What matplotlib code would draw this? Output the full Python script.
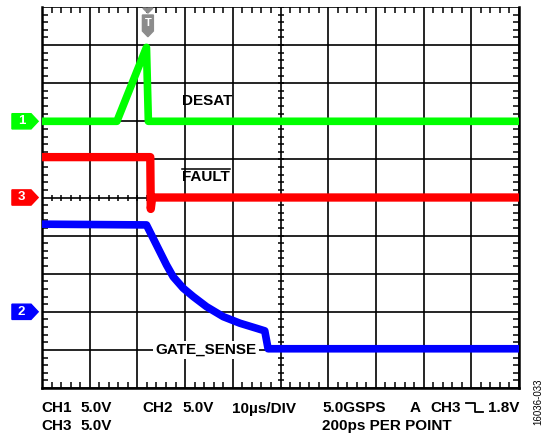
import numpy as np
import matplotlib
matplotlib.use("Agg")
import matplotlib.pyplot as plt
from matplotlib.patches import Polygon
from matplotlib.lines import Line2D
import matplotlib.transforms as mtransforms

plt.rcParams["font.family"] = ["Liberation Sans", "DejaVu Sans"]

# scope settings
VOLTS_PER_DIV = 5.0
US_PER_DIV = 10.0
T_LEFT = -22.2          # time at left edge of screen (trigger at 0)
N_XDIV = 10
N_YDIV = 10

# channel ground positions (divisions from bottom)
offset_ch1 = 7
offset_ch3 = 5
offset_ch2 = 2

# CH1 - DESAT (V vs us)
t_ch1 = [-22.2, -6.5, -0.3, 0.1, 77.8]
v_ch1 = [0.0, 0.0, 9.7, 0.0, 0.0]

# CH3 - FAULT
t_ch3 = [-22.2, 0.5, 0.6, 0.9, 77.8]
v_ch3 = [5.3, 5.3, -1.5, 0.0, 0.0]

# CH2 - GATE_SENSE
t_ch2 = [-22.2, -0.3, 1.1, 2.5, 3.9, 5.3, 7.4, 9.5, 12.3, 15.8, 19.3, 22.8,
         24.5, 25.2, 77.8]
v_ch2 = [11.5, 11.4, 9.65, 7.9, 6.15, 4.6, 3.1, 2.0, 0.67, -0.64, -1.5, -2.17,
         -2.5, -4.85, -4.85]

fig = plt.figure(figsize=(5.5, 4.34), dpi=100)
ax = fig.add_axes([42 / 550, 46 / 434, 477 / 550, 381 / 434])

x0, x1 = T_LEFT, T_LEFT + N_XDIV * US_PER_DIV
ax.set_xlim(x0, x1)
ax.set_ylim(0, N_YDIV)

# graticule
ax.set_xticks(x0 + US_PER_DIV * np.arange(N_XDIV + 1))
ax.set_yticks(np.arange(N_YDIV + 1))
ax.set_xticks(x0 + 2.0 * np.arange(5 * N_XDIV + 1), minor=True)
ax.set_yticks(0.2 * np.arange(5 * N_YDIV + 1), minor=True)
ax.grid(True, which="major", color="black", lw=1.2)
ax.tick_params(which="both", labelbottom=False, labelleft=False)
ax.tick_params(which="major", length=0)
ax.tick_params(which="minor", direction="in", length=4, width=1.1,
               top=True, right=True, bottom=True, left=True, color="black")
ax.spines["top"].set_visible(False)
for s in ["left", "right", "bottom"]:
    ax.spines[s].set_linewidth(1.8)

# centre cross ticks
xm = x0 + 2.0 * np.arange(5 * N_XDIV + 1)
ym = 0.2 * np.arange(5 * N_YDIV + 1)
xc = x0 + US_PER_DIV * N_XDIV / 2
ax.plot(xm, np.full_like(xm, N_YDIV / 2), ls="none", marker="|", ms=5, mew=1.1, color="black")
ax.plot(np.full_like(ym, xc), ym, ls="none", marker="_", ms=5, mew=1.1, color="black")

# traces
ax.plot(t_ch1, offset_ch1 + np.array(v_ch1) / VOLTS_PER_DIV, color="#00ff00", lw=5.5,
        zorder=5, solid_capstyle="butt")
ax.plot(t_ch3, offset_ch3 + np.array(v_ch3) / VOLTS_PER_DIV, color="#ff0000", lw=6,
        zorder=5, solid_capstyle="butt")
ax.plot(t_ch2, offset_ch2 + np.array(v_ch2) / VOLTS_PER_DIV, color="#0000ff", lw=5.5,
        zorder=5, solid_capstyle="butt")

# channel markers on the left
blend_y = mtransforms.blended_transform_factory(ax.transAxes, ax.transData)
for num, off, col in [("1", offset_ch1, "#00ff00"), ("3", offset_ch3, "#ff0000"),
                      ("2", offset_ch2, "#0000ff")]:
    h = 0.2
    pts = [(-0.063, off - h), (-0.023, off - h), (-0.008, off),
           (-0.023, off + h), (-0.063, off + h)]
    ax.add_patch(Polygon(pts, closed=True, transform=blend_y, color=col,
                         clip_on=False, zorder=6))
    ax.text(-0.043, off, num, transform=blend_y, color="white", fontsize=9.5,
            fontweight="bold", ha="center", va="center", clip_on=False, zorder=7)

# trigger marker
blend_x = mtransforms.blended_transform_factory(ax.transData, ax.transAxes)
gray = "#8c8c8c"
ax.add_patch(Polygon([(-1.05, 0.997), (1.05, 0.997), (0, 0.984)], closed=True,
                     transform=blend_x, color=gray, clip_on=False, zorder=6))
ax.add_patch(Polygon([(-1.15, 0.979), (1.15, 0.979), (1.15, 0.937), (0, 0.922),
                      (-1.15, 0.937)], closed=True, transform=blend_x, color=gray,
                     clip_on=False, zorder=6))
ax.text(0, 0.958, "T", transform=blend_x, color="white", fontsize=8,
        fontweight="bold", ha="center", va="center", zorder=7)

# trace labels
ax.text(7.1, 7.53, "DESAT", fontsize=11, fontweight="bold", ha="left", va="center", zorder=8)
fault = ax.text(7.1, 5.55, "FAULT", fontsize=11, fontweight="bold", ha="left",
                va="center", zorder=8)
ax.text(1.6, 1.0, "GATE_SENSE", fontsize=11, fontweight="bold", ha="left", va="center",
        zorder=8, bbox=dict(facecolor="white", edgecolor="none", pad=1.5))

# overline on FAULT
fig.canvas.draw()
bb = fault.get_window_extent(fig.canvas.get_renderer())
inv = fig.transFigure.inverted()
(fx0, fy0), (fx1, fy1) = inv.transform([(bb.x0, bb.y1), (bb.x1, bb.y1)])
fig.add_artist(Line2D([fx0, fx1], [fy0 + 0.002, fy1 + 0.002], color="black", lw=1.1,
                      transform=fig.transFigure))

# status text below graticule
def ftxt(x, y, s, **kw):
    fig.text(x / 550, 1 - y / 434, s, fontsize=11, fontweight="bold", va="baseline", **kw)

ftxt(41, 412.5, "CH1")
ftxt(80, 412.5, "5.0V")
ftxt(41, 430, "CH3")
ftxt(80, 430, "5.0V")
ftxt(142.5, 412.5, "CH2")
ftxt(182, 412.5, "5.0V")
ftxt(232, 412.5, "10µs/DIV")
ftxt(322.5, 412.5, "5.0GSPS")
ftxt(410, 412.5, "A")
ftxt(430, 412.5, "CH3")
ftxt(488, 412.5, "1.8V")
ftxt(322.5, 430, "200ps PER POINT")

# falling edge symbol
edge_x = np.array([466, 475, 475, 483]) / 550
edge_y = 1 - np.array([403, 403, 412, 412]) / 434
fig.add_artist(Line2D(edge_x, edge_y, color="black", lw=1.3, transform=fig.transFigure))

fig.text(538 / 550, 1 - 402 / 434, "16036-033", fontsize=7, rotation=90,
         ha="center", va="center")

fig.savefig("out.png", dpi=100)
